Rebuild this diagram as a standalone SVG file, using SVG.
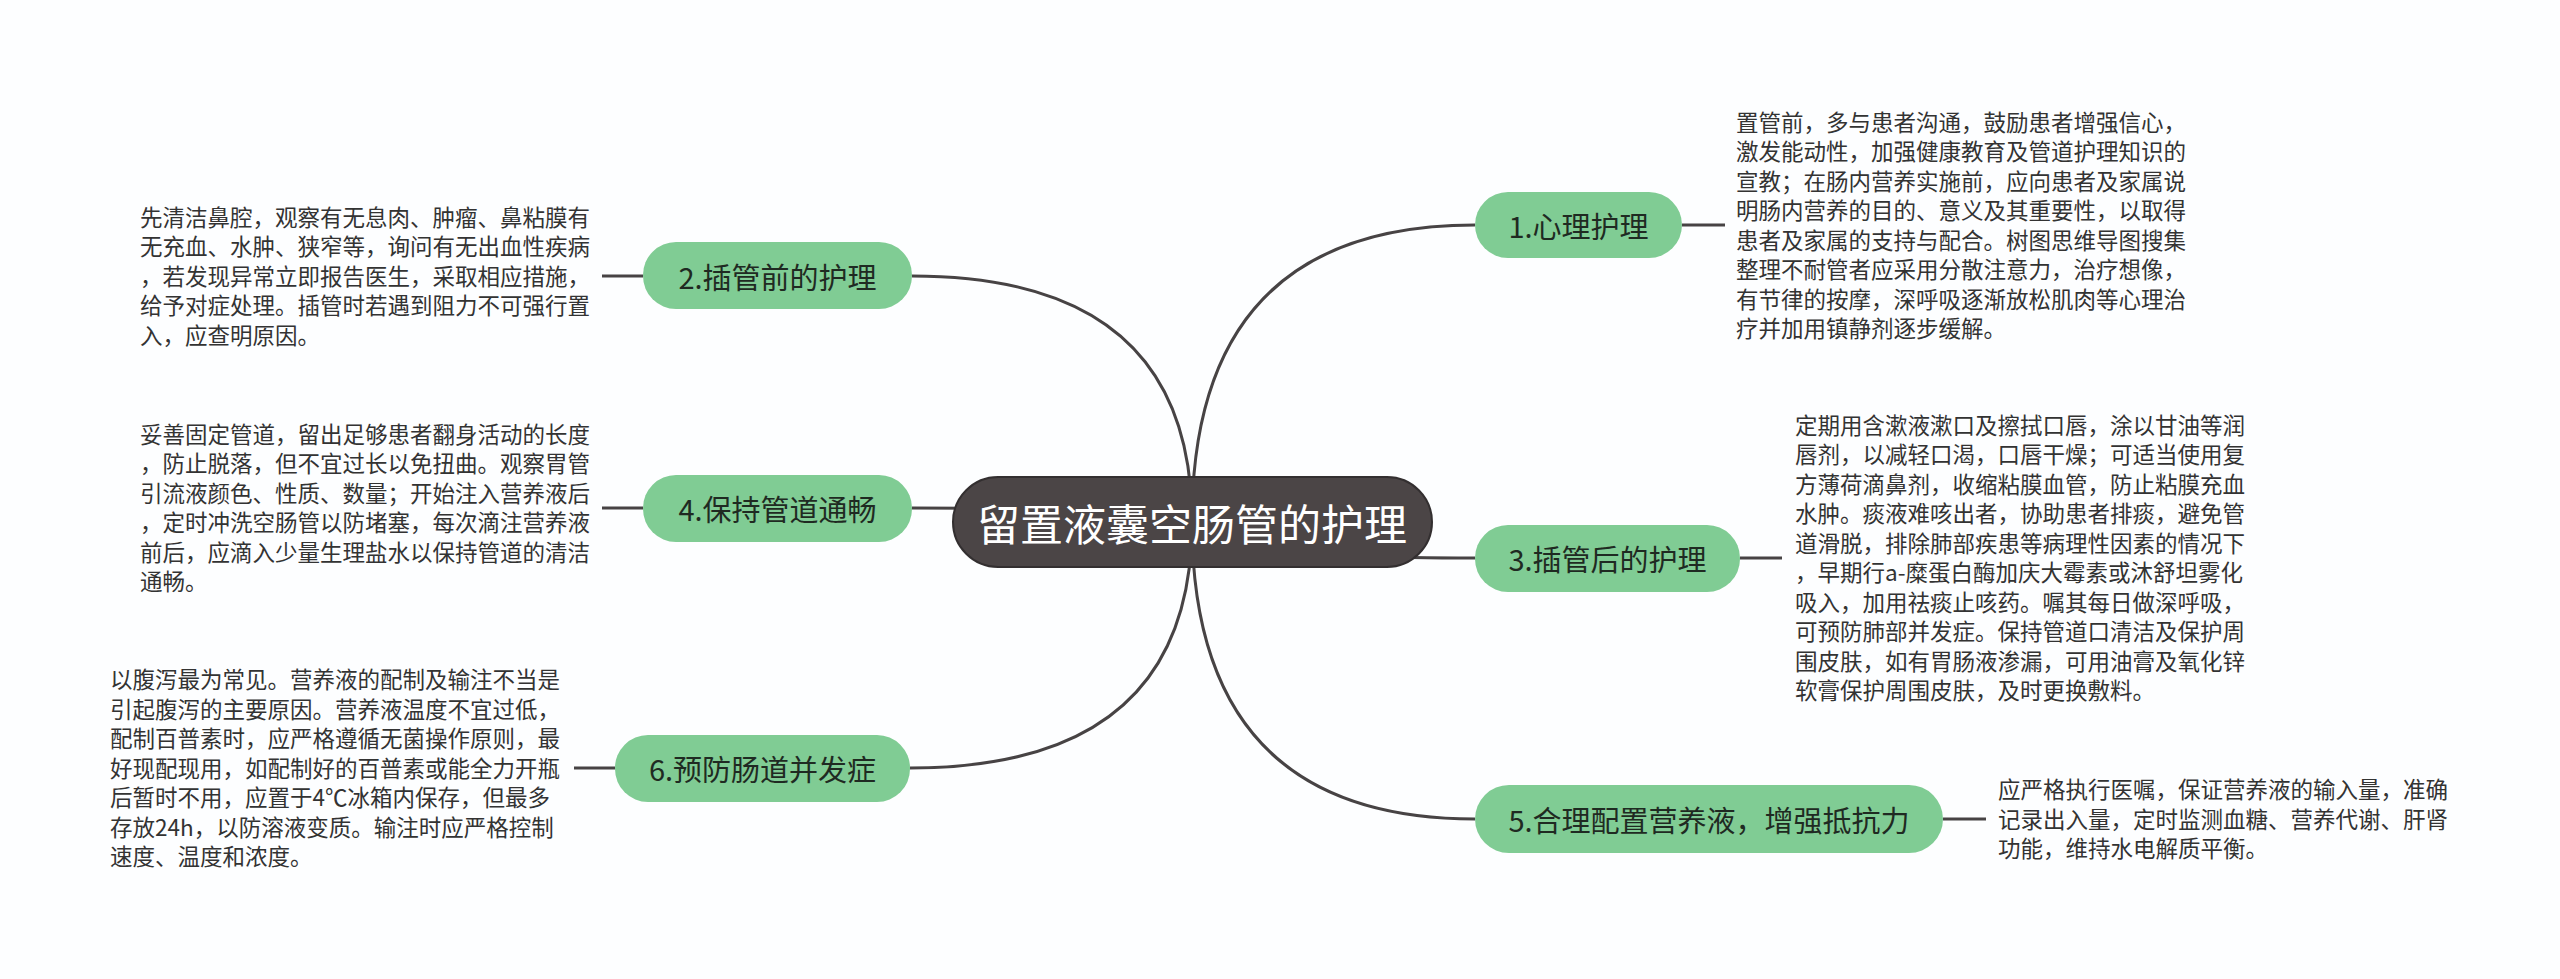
<svg xmlns="http://www.w3.org/2000/svg" width="2560" height="979" viewBox="0 0 2560 979">
<style>
.bg{fill:#fdfeff}
.conn{fill:none;stroke:#474344;stroke-width:3}
.node rect{fill:#80cc94;stroke:none}
.node text{font-family:"Noto Sans CJK SC","Noto Sans",sans-serif;font-size:29px;fill:#1f2a22;text-anchor:middle;dominant-baseline:central}
.root rect{fill:#4b4546;stroke:#332f30;stroke-width:2}
.root text{font-family:"Noto Sans CJK SC","Noto Sans",sans-serif;font-size:43px;fill:#ffffff;text-anchor:middle;dominant-baseline:central}
.desc{font-family:"Noto Sans CJK SC","Noto Sans",sans-serif;font-size:22.5px;fill:#333333}
</style>
<rect class="bg" x="0" y="0" width="2560" height="979"/>
<g id="connectors">
<path class="conn" d="M1192,522 Q1192,225 1475,225"/>
<path class="conn" d="M1192,522 Q1192,558 1475,558"/>
<path class="conn" d="M1192,522 Q1192,819 1475,819"/>
<path class="conn" d="M1192,522 Q1192,276 912,276"/>
<path class="conn" d="M1192,522 Q1192,508 912,508"/>
<path class="conn" d="M1192,522 Q1192,768 910,768"/>
<path class="conn" d="M1682,225 H1725"/>
<path class="conn" d="M1740,558 H1782"/>
<path class="conn" d="M1943,819 H1986"/>
<path class="conn" d="M643,276 H602"/>
<path class="conn" d="M643,508 H602"/>
<path class="conn" d="M615,768 H574"/>
</g>
<g id="root" class="root">
<rect x="953" y="477" width="479" height="90" rx="45"/>
<text x="1192" y="522">留置液囊空肠管的护理</text>
</g>
<g id="n1" class="node">
<rect x="1475" y="192" width="207" height="66" rx="33"/>
<text x="1578.5" y="225">1.心理护理</text>
</g>
<g id="n3" class="node">
<rect x="1475" y="525" width="265" height="67" rx="33"/>
<text x="1607.5" y="558">3.插管后的护理</text>
</g>
<g id="n5" class="node">
<rect x="1475" y="785" width="468" height="68" rx="34"/>
<text x="1709" y="819">5.合理配置营养液，增强抵抗力</text>
</g>
<g id="n2" class="node">
<rect x="643" y="242" width="269" height="67" rx="33"/>
<text x="777.5" y="276">2.插管前的护理</text>
</g>
<g id="n4" class="node">
<rect x="643" y="475" width="269" height="67" rx="33"/>
<text x="777.5" y="508">4.保持管道通畅</text>
</g>
<g id="n6" class="node">
<rect x="615" y="735" width="295" height="67" rx="33"/>
<text x="762.5" y="768">6.预防肠道并发症</text>
</g>
<g id="d1">
<text class="desc" x="1736" y="130.5"><tspan x="1736">置管前，多与患者沟通，鼓励患者增强信心，</tspan><tspan x="1736" dy="29.5">激发能动性，加强健康教育及管道护理知识的</tspan><tspan x="1736" dy="29.5">宣教；在肠内营养实施前，应向患者及家属说</tspan><tspan x="1736" dy="29.5">明肠内营养的目的、意义及其重要性，以取得</tspan><tspan x="1736" dy="29.5">患者及家属的支持与配合。树图思维导图搜集</tspan><tspan x="1736" dy="29.5">整理不耐管者应采用分散注意力，治疗想像，</tspan><tspan x="1736" dy="29.5">有节律的按摩，深呼吸逐渐放松肌肉等心理治</tspan><tspan x="1736" dy="29.5">疗并加用镇静剂逐步缓解。</tspan></text>
</g>
<g id="d2">
<text class="desc" x="140" y="225.5"><tspan x="140">先清洁鼻腔，观察有无息肉、肿瘤、鼻粘膜有</tspan><tspan x="140" dy="29.5">无充血、水肿、狭窄等，询问有无出血性疾病</tspan><tspan x="140" dy="29.5">，若发现异常立即报告医生，采取相应措施，</tspan><tspan x="140" dy="29.5">给予对症处理。插管时若遇到阻力不可强行置</tspan><tspan x="140" dy="29.5">入，应查明原因。</tspan></text>
</g>
<g id="d3">
<text class="desc" x="1795" y="433.5"><tspan x="1795">定期用含漱液漱口及擦拭口唇，涂以甘油等润</tspan><tspan x="1795" dy="29.5">唇剂，以减轻口渴，口唇干燥；可适当使用复</tspan><tspan x="1795" dy="29.5">方薄荷滴鼻剂，收缩粘膜血管，防止粘膜充血</tspan><tspan x="1795" dy="29.5">水肿。痰液难咳出者，协助患者排痰，避免管</tspan><tspan x="1795" dy="29.5">道滑脱，排除肺部疾患等病理性因素的情况下</tspan><tspan x="1795" dy="29.5">，早期行a-糜蛋白酶加庆大霉素或沐舒坦雾化</tspan><tspan x="1795" dy="29.5">吸入，加用祛痰止咳药。嘱其每日做深呼吸，</tspan><tspan x="1795" dy="29.5">可预防肺部并发症。保持管道口清洁及保护周</tspan><tspan x="1795" dy="29.5">围皮肤，如有胃肠液渗漏，可用油膏及氧化锌</tspan><tspan x="1795" dy="29.5">软膏保护周围皮肤，及时更换敷料。</tspan></text>
</g>
<g id="d4">
<text class="desc" x="140" y="442.5"><tspan x="140">妥善固定管道，留出足够患者翻身活动的长度</tspan><tspan x="140" dy="29.5">，防止脱落，但不宜过长以免扭曲。观察胃管</tspan><tspan x="140" dy="29.5">引流液颜色、性质、数量；开始注入营养液后</tspan><tspan x="140" dy="29.5">，定时冲洗空肠管以防堵塞，每次滴注营养液</tspan><tspan x="140" dy="29.5">前后，应滴入少量生理盐水以保持管道的清洁</tspan><tspan x="140" dy="29.5">通畅。</tspan></text>
</g>
<g id="d5">
<text class="desc" x="1998" y="798"><tspan x="1998">应严格执行医嘱，保证营养液的输入量，准确</tspan><tspan x="1998" dy="29.5">记录出入量，定时监测血糖、营养代谢、肝肾</tspan><tspan x="1998" dy="29.5">功能，维持水电解质平衡。</tspan></text>
</g>
<g id="d6">
<text class="desc" x="110" y="688"><tspan x="110">以腹泻最为常见。营养液的配制及输注不当是</tspan><tspan x="110" dy="29.5">引起腹泻的主要原因。营养液温度不宜过低，</tspan><tspan x="110" dy="29.5">配制百普素时，应严格遵循无菌操作原则，最</tspan><tspan x="110" dy="29.5">好现配现用，如配制好的百普素或能全力开瓶</tspan><tspan x="110" dy="29.5">后暂时不用，应置于4℃冰箱内保存，但最多</tspan><tspan x="110" dy="29.5">存放24h，以防溶液变质。输注时应严格控制</tspan><tspan x="110" dy="29.5">速度、温度和浓度。</tspan></text>
</g>
</svg>
